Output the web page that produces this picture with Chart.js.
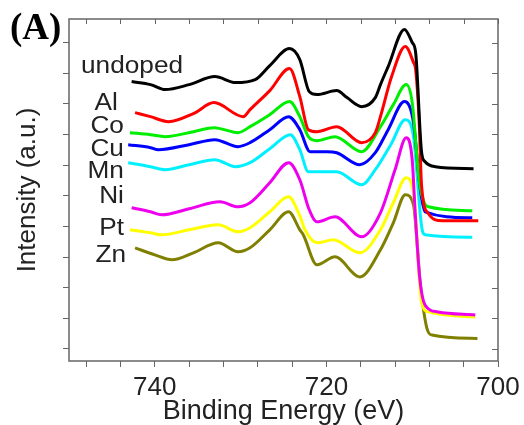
<!DOCTYPE html>
<html lang="en">
<head>
  <meta charset="UTF-8">
  <title>XPS Fe 2p spectra</title>
  <script src="https://cdn.jsdelivr.net/npm/chart.js"></script>
  <style>
    html, body {
      margin: 0;
      padding: 0;
      background: #fff;
    }
    #wrap {
      width: 524px;
      height: 425px;
    }
  </style>
</head>
<body>
  <div id="wrap"><canvas id="xps" width="524" height="425"></canvas></div>
  <script>
    // binding energy (eV), intensity (a.u.)
    const undoped = [[742.7, 279], [740.5, 276], [738.8, 271], [736, 276], [733.0, 284], [730.6, 278], [728.3, 281], [726.6, 295], [724.3, 312], [723.1, 301], [722.0, 269], [721.1, 266], [718.8, 270], [717.6, 263], [715.9, 254], [714.3, 263], [713.7, 276], [712.8, 294], [710.9, 331], [710.0, 318], [709.6, 308], [708.9, 208], [708.5, 199], [707.3, 194], [702.85, 192]];
    const al = [[742.3, 248], [740.5, 244], [738.4, 239], [735.5, 247], [733.1, 258], [729.7, 244], [728.9, 251], [726.6, 270], [724.3, 292], [723.1, 264], [722.1, 231], [721.1, 229], [718.8, 234], [715.9, 218], [714.3, 228], [713.7, 244], [712.4, 284], [710.8, 314], [709.85, 298], [709.6, 291], [709.2, 241], [708.9, 174], [708.1, 147], [706.5, 140], [702.3, 140]];
    const co = [[742.9, 228], [740.5, 226], [738.8, 224], [735.5, 229], [733.1, 233], [730.3, 228], [728.9, 234], [726.6, 246], [724.3, 259], [723.1, 244], [722.1, 224], [721.1, 220], [719.0, 224], [715.9, 209], [713.7, 234], [712.2, 256], [710.7, 276], [710.0, 258], [709.2, 181], [708.6, 158], [708.1, 154], [703.0, 150]];
    const cu = [[743.1, 216], [740.5, 213], [739.6, 211], [736, 216], [733.0, 221], [730.3, 214], [728.9, 218], [726.6, 231], [724.4, 244], [723.1, 231], [721.9, 209], [719.9, 209], [718.8, 208], [716.1, 196], [714.3, 208], [712.8, 231], [710.9, 259], [709.85, 238], [709.1, 174], [708.5, 149], [703.0, 143]];
    const mn = [[743.1, 198], [740.5, 194], [738.8, 191], [736, 196], [733.0, 201], [730.6, 194], [728.9, 198], [726.6, 212], [724.2, 226], [723.1, 211], [722.1, 189], [718.8, 189], [715.9, 176], [714.3, 191], [712.5, 216], [710.8, 241], [709.85, 224], [708.9, 134], [708.5, 126], [703.0, 123.5]];
    const ni = [[742.7, 153], [740.5, 149], [739.2, 146], [736, 152], [732.4, 159], [730.3, 154], [728.9, 158], [726.6, 178], [724.4, 198], [723.1, 181], [722.0, 151], [721.1, 139], [719.0, 144], [715.9, 124], [713.7, 148], [712.0, 191], [710.7, 223], [710.0, 201], [709.65, 148], [709.1, 81], [708.5, 56], [707.0, 49], [702.65, 46]];
    const pt = [[742.9, 131], [740.5, 128], [739.2, 126], [736, 131], [732.6, 136], [730.3, 129], [728.9, 133], [726.6, 149], [724.4, 164], [723.1, 145], [722.5, 131], [721.1, 118], [719.2, 121], [716.1, 108], [713.7, 131], [712.2, 158], [710.7, 183], [709.85, 168], [708.9, 58], [708.1, 49], [702.65, 44]];
    const zn = [[742.3, 113], [740, 106], [738.0, 101], [735.5, 108], [732.6, 118], [730.3, 109], [728.9, 113], [726.6, 131], [724.4, 149], [723.1, 131], [722.7, 126], [721.1, 96], [719.0, 104], [716.1, 84], [713.7, 111], [712.2, 138], [710.8, 166], [709.85, 156], [709.1, 81], [708.3, 33], [707.7, 26], [702.4, 22.5]];

    const names = ['undoped', 'Al', 'Co', 'Cu', 'Mn', 'Ni', 'Pt', 'Zn'];
    const series = [undoped, al, co, cu, mn, ni, pt, zn];
    const colors = ['#000000', '#ff0000', '#00ee00', '#0000ff', '#00f0ff', '#ee00ee', '#ffff00', '#808000'];

    // where each name sits (right edge energy, baseline intensity)
    const labelAt = [[736.7, 288], [744.3, 251], [743.6, 228], [743.6, 205], [743.6, 183], [743.6, 158], [743.6, 126], [743.35, 99]];

    const xTicks = [700, 704, 708, 712, 716, 720, 724, 728, 732, 736, 740, 744, 748];
    const yTicks = [12, 42.6, 73.2, 103.8, 134.4, 165, 195.6, 226.2, 256.8, 287.4, 318];

    const axisColor = '#666';
    const textColor = '#222';
    const stretch = 1.14; // the figure's lettering is a bit wide

    const decor = {
      id: 'decor',
      afterDraw(chart) {
        const ctx = chart.ctx;
        const area = chart.chartArea;
        const xs = chart.scales.x;
        const ys = chart.scales.y;
        ctx.save();
        ctx.strokeStyle = axisColor;
        ctx.lineWidth = 1.5;
        ctx.strokeRect(area.left, area.top, area.right - area.left, area.bottom - area.top);
        // mirrored inward ticks on top and right
        ctx.lineWidth = 1;
        ctx.beginPath();
        xTicks.forEach(v => {
          const px = Math.round(xs.getPixelForValue(v)) + 0.5;
          ctx.moveTo(px, area.top);
          ctx.lineTo(px, area.top + 5);
        });
        yTicks.forEach(v => {
          const py = Math.round(ys.getPixelForValue(v)) + 0.5;
          ctx.moveTo(area.right, py);
          ctx.lineTo(area.right - 6, py);
        });
        ctx.stroke();

        // series names
        ctx.fillStyle = textColor;
        ctx.font = '23px "Liberation Sans", Arial, sans-serif';
        ctx.textAlign = 'right';
        ctx.textBaseline = 'alphabetic';
        names.forEach((n, i) => {
          const px = xs.getPixelForValue(labelAt[i][0]);
          const py = ys.getPixelForValue(labelAt[i][1]);
          ctx.save();
          ctx.translate(px, py);
          ctx.scale(stretch, 1);
          ctx.fillText(n, 0, 0);
          ctx.restore();
        });

        // panel letter
        ctx.font = 'bold 37px "Liberation Serif", "Times New Roman", serif';
        ctx.textAlign = 'left';
        ctx.fillStyle = '#000';
        ctx.fillText('(A)', 10, 39);
        ctx.restore();
      }
    };

    const ctx = document.getElementById('xps').getContext('2d');
    const chart = new Chart(ctx, {
      type: 'line',
      data: {
        datasets: series.map((s, i) => ({
          label: names[i],
          data: s.map(p => ({ x: p[0], y: p[1] })),
          borderColor: colors[i],
          borderWidth: 3,
          pointRadius: 0,
          cubicInterpolationMode: 'monotone',
          fill: false
        }))
      },
      options: {
        responsive: false,
        animation: false,
        layout: {
          padding: { left: 0, right: 26, top: 19, bottom: 0 }
        },
        plugins: {
          legend: { display: false },
          tooltip: { enabled: false }
        },
        scales: {
          x: {
            type: 'linear',
            reverse: true,
            min: 700,
            max: 750,
            afterBuildTicks: scale => {
              scale.ticks = xTicks.map(v => ({ value: v }));
            },
            afterFit: scale => {
              scale.height = 64;
            },
            border: { display: false },
            grid: {
              drawOnChartArea: false,
              drawTicks: true,
              tickLength: 6,
              color: axisColor
            },
            ticks: {
              autoSkip: false,
              maxRotation: 0,
              padding: 5,
              color: textColor,
              font: { family: '"Liberation Sans", Arial, sans-serif', size: 26 },
              callback: v => (v % 20 === 0 ? String(v) : '')
            },
            title: {
              display: true,
              text: 'Binding Energy (eV)',
              color: textColor,
              padding: 0,
              font: { family: '"Liberation Sans", Arial, sans-serif', size: 27, lineHeight: 1 }
            }
          },
          y: {
            type: 'linear',
            min: 0,
            max: 341.5,
            afterBuildTicks: scale => {
              scale.ticks = yTicks.map(v => ({ value: v }));
            },
            afterFit: scale => {
              scale.width = 69;
            },
            border: { display: false },
            grid: {
              drawOnChartArea: false,
              drawTicks: true,
              tickLength: 6,
              color: axisColor
            },
            ticks: {
              callback: () => ''
            },
            title: {
              display: true,
              text: 'Intensity (a.u.)',
              color: textColor,
              padding: { top: 15, bottom: 0 },
              font: { family: '"Liberation Sans", Arial, sans-serif', size: 26, lineHeight: 1 }
            }
          }
        }
      },
      plugins: [decor]
    });
  </script>
</body>
</html>
